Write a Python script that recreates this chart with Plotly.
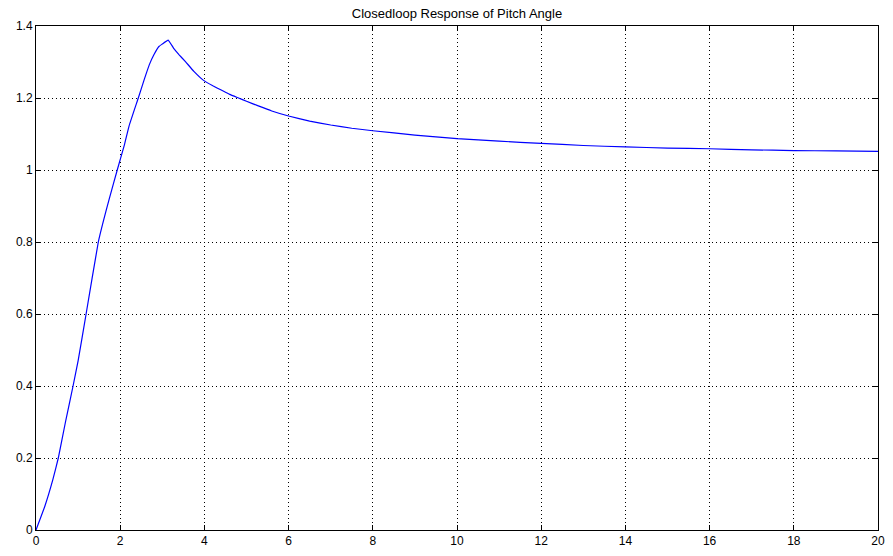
import plotly.graph_objects as go

t = [0, 0.21, 0.4, 0.53, 0.7, 0.88, 1.0, 1.19, 1.48, 1.6, 1.74, 1.93, 2.1, 2.21,
     2.43, 2.57, 2.69, 2.8, 2.92, 3.0, 3.14, 3.27, 3.4, 3.55, 3.75, 3.98, 4.2, 4.4, 4.6,
     4.81, 5.0, 5.28, 5.6, 6, 6.5, 7, 7.5, 8, 9, 10, 11, 12, 13, 14, 15, 16, 17, 18, 19, 20]
pitch = [0, 0.066, 0.14, 0.2, 0.3, 0.4, 0.47, 0.6, 0.8, 0.858, 0.92, 1.0, 1.07, 1.122,
         1.2, 1.251, 1.292, 1.32, 1.343, 1.35, 1.361, 1.338, 1.32, 1.301, 1.274, 1.249, 1.234,
         1.222, 1.21, 1.2, 1.191, 1.178, 1.164, 1.15, 1.136, 1.125, 1.116, 1.109, 1.097,
         1.087, 1.08, 1.074, 1.068, 1.064, 1.061, 1.059, 1.056, 1.054, 1.053, 1.052]

x_ticks = list(range(0, 21, 2))
y_ticks = [0, 0.2, 0.4, 0.6, 0.8, 1, 1.2, 1.4]
y_labels = ["0", "0.2", "0.4", "0.6", "0.8", "1", "1.2", "1.4"]

fig = go.Figure()
fig.add_trace(go.Scatter(x=t, y=pitch, mode="lines", line_shape="spline",
                         line=dict(color="#0000ff", width=1.2, smoothing=0.3), showlegend=False))

axis_common = dict(
    showline=True, linecolor="black", linewidth=1, mirror="ticks",
    ticks="inside", ticklen=5, tickcolor="black", tickwidth=1,
    showgrid=True, gridcolor="black", gridwidth=1, griddash="1px,3px",
    zeroline=False, tickfont=dict(family="Liberation Sans, Arial", size=12, color="black"),
)

fig.update_xaxes(range=[0, 20], tickvals=x_ticks, ticktext=[str(v) for v in x_ticks], **axis_common)
fig.update_yaxes(range=[0, 1.4], tickvals=y_ticks, ticktext=y_labels, **axis_common)

fig.update_layout(
    width=893, height=556,
    margin=dict(l=36, r=8, t=26, b=22),
    paper_bgcolor="white", plot_bgcolor="white",
    title=dict(text="Closedloop Response of Pitch Angle", x=0.5, xref="paper",
               y=1, yref="paper", yanchor="bottom", pad=dict(b=8),
               font=dict(family="Liberation Sans, Arial", size=13, color="black")),
)

fig.write_html("out.html")
